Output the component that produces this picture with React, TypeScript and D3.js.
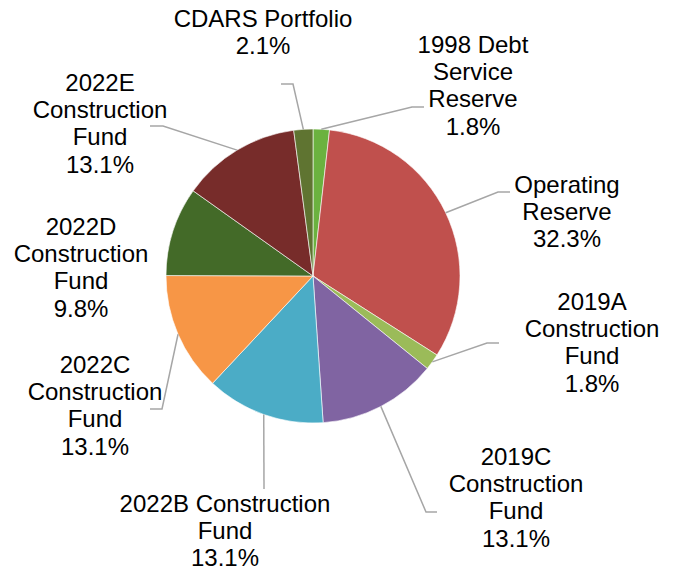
import React from "react";
import * as d3 from "d3";

const categories = [
  "1998 Debt Service Reserve",
  "Operating Reserve",
  "2019A Construction Fund",
  "2019C Construction Fund",
  "2022B Construction Fund",
  "2022C Construction Fund",
  "2022D Construction Fund",
  "2022E Construction Fund",
  "CDARS Portfolio",
];
const values = [1.8, 32.3, 1.8, 13.1, 13.1, 13.1, 9.8, 13.1, 2.1];
const colors = [
  "#6BB23F",
  "#C0504D",
  "#9BBB59",
  "#8064A2",
  "#4BACC6",
  "#F79646",
  "#436A28",
  "#772C2A",
  "#5F7431",
];

// label layout: wrapped lines of the name, centre x, first baseline y, leader start & elbow
const labelLayout = [
  { lines: ["1998 Debt", "Service", "Reserve"], x: 473, y: 53, leader: [[424, 107], [412, 107]] },
  { lines: ["Operating", "Reserve"], x: 567, y: 193, leader: [[510, 192], [498, 192]] },
  { lines: ["2019A", "Construction", "Fund"], x: 592, y: 310, leader: [[499, 343], [487, 343]] },
  { lines: ["2019C", "Construction", "Fund"], x: 516, y: 465, leader: [[437, 512], [426, 512]] },
  { lines: ["2022B Construction", "Fund"], x: 225, y: 512, leader: [[264, 489], [264, 489]] },
  { lines: ["2022C", "Construction", "Fund"], x: 95, y: 373, leader: [[150, 409], [162, 409]] },
  { lines: ["2022D", "Construction", "Fund"], x: 81, y: 235, leader: null },
  { lines: ["2022E", "Construction", "Fund"], x: 100, y: 91, leader: [[150, 126], [163, 126]] },
  { lines: ["CDARS Portfolio"], x: 263, y: 27, leader: [[281, 84], [293, 84]] },
];

const W = 675;
const H = 573;
const CX = 313;
const CY = 276;
const R = 147;
const LINE_H = 27.2;

export default function App() {
  const data = categories.map((c, i) => ({ name: c, value: values[i], color: colors[i], layout: labelLayout[i] }));
  const pie = d3.pie<any>().sort(null).value((d) => d.value).startAngle(0).endAngle(2 * Math.PI);
  const arcs = pie(data);
  const arc = d3.arc<any>().innerRadius(0).outerRadius(R);

  return (
    <svg
      width={W}
      height={H}
      style={{ position: "absolute", left: 0, top: 0, background: "#fff" }}
      fontFamily="'Liberation Sans', Arial, sans-serif"
    >
      <g transform={`translate(${CX},${CY})`}>
        {arcs.map((a, i) => (
          <path key={i} d={arc(a) as string} fill={a.data.color} stroke="#ffffff" strokeWidth={0.6} />
        ))}
      </g>
      {arcs.map((a, i) => {
        const L = a.data.layout;
        if (!L.leader) return null;
        const mid = (a.startAngle + a.endAngle) / 2;
        const px = CX + R * Math.sin(mid);
        const py = CY - R * Math.cos(mid);
        const [s, e] = L.leader;
        const pts: [number, number][] = [[s[0], s[1]], [e[0], e[1]], [px, py]];
        return (
          <path
            key={"l" + i}
            d={d3.line()(pts) as string}
            fill="none"
            stroke="#A6A6A6"
            strokeWidth={1.5}
          />
        );
      })}
      {arcs.map((a, i) => {
        const L = a.data.layout;
        const lines = [...L.lines, `${a.data.value.toFixed(1)}%`];
        return (
          <text key={"t" + i} x={L.x} y={L.y} textAnchor="middle" fontSize={24} fill="#000">
            {lines.map((ln: string, j: number) => (
              <tspan key={j} x={L.x} y={L.y + j * LINE_H}>
                {ln}
              </tspan>
            ))}
          </text>
        );
      })}
    </svg>
  );
}
